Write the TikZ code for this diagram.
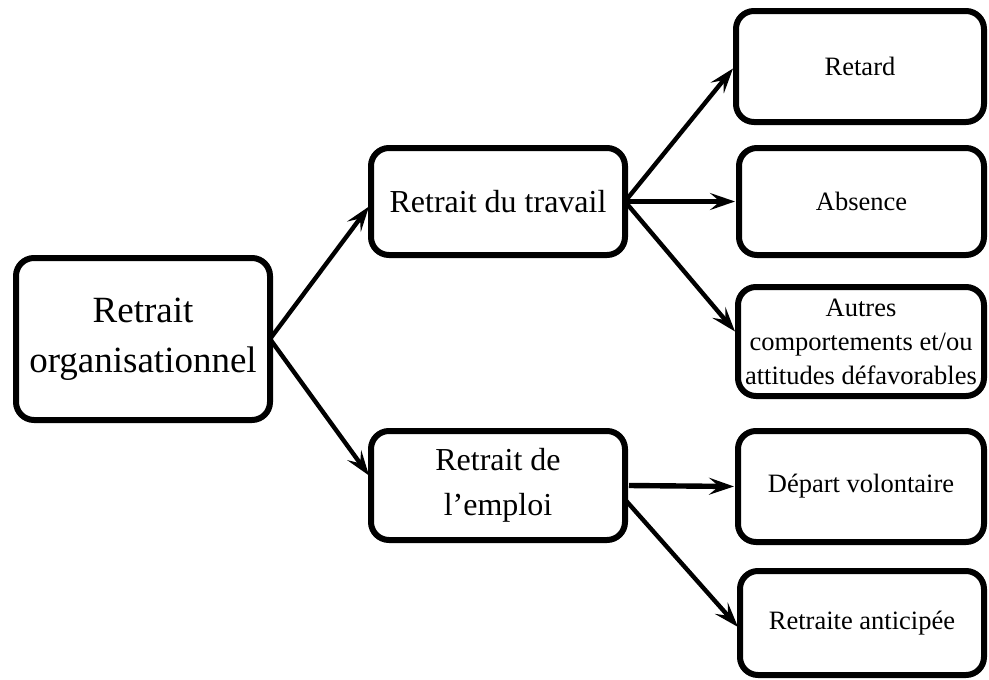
\documentclass[tikz,border=0pt]{standalone}
\usepackage{fontspec}
\setmainfont{Liberation Serif}
\usetikzlibrary{arrows.meta}
\begin{document}
\begin{tikzpicture}[x=1pt,y=-1pt,
  box/.style={draw=black, line width=6pt, rounded corners=18pt, fill=white,
    align=center, inner sep=0pt, outer sep=0pt},
  bigtxt/.style={font=\fontsize{37}{50}\selectfont},
  midtxt/.style={font=\fontsize{32}{45}\selectfont},
  smalltxt/.style={font=\fontsize{26.5}{34}\selectfont},
  link/.style={line width=4.4pt, -{Stealth[length=25pt,width=17pt,inset=10pt]}},
  hlink/.style={line width=5.4pt, -{Stealth[length=25pt,width=17pt,inset=10pt]}}]
  \useasboundingbox (0,0) rectangle (989,680);

  % root
  \node[box, bigtxt, minimum width=254pt, minimum height=162pt] (org) at (143,339)
    {Retrait\\organisationnel};

  % second level
  \node[box, midtxt, minimum width=254pt, minimum height=107pt] (travail) at (498,201.5)
    {Retrait du travail};
  \node[box, midtxt, minimum width=254pt, minimum height=109pt] (emploi) at (498,485.5)
    {Retrait de\\l’emploi};

  % third level
  \node[box, smalltxt, minimum width=248pt, minimum height=111pt] (retard) at (860,66.5)
    {Retard};
  \node[box, smalltxt, minimum width=245pt, minimum height=107pt] (absence) at (861.5,201.5)
    {Absence};
  \node[box, smalltxt, minimum width=246pt, minimum height=109pt] (autres) at (861,341.5)
    {Autres\\comportements et/ou\\attitudes défavorables};
  \node[box, smalltxt, minimum width=246pt, minimum height=111pt] (depart) at (861,486.5)
    {Départ volontaire};
  \node[box, smalltxt, minimum width=244pt, minimum height=104pt] (retraite) at (862,623)
    {Retraite anticipée};

  % connectors
  \draw[link] (org.east) -- ([yshift=-5pt,xshift=-2pt]travail.west);
  \draw[link] (org.east) -- ([yshift=10pt,xshift=-2pt]emploi.west);

  \draw[link] (travail.east) -- ([xshift=-3pt,yshift=-2pt]retard.west);
  \draw[hlink] (travail.east) -- ([xshift=-4pt]absence.west);
  \draw[link] (travail.east) -- ([xshift=-3pt,yshift=10pt]autres.west);

  \draw[hlink] ([xshift=4pt]emploi.east) -- ([xshift=-4pt]depart.west);
  \draw[link] ([yshift=-14pt]emploi.east) -- ([xshift=-2pt,yshift=-4pt]retraite.west);
\end{tikzpicture}
\end{document}
